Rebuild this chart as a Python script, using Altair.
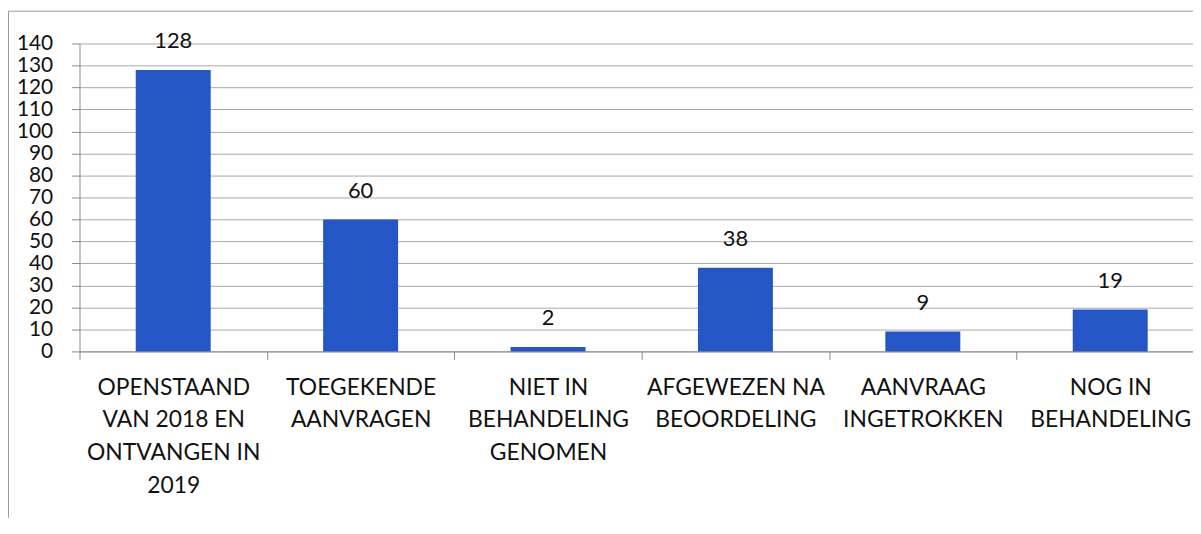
import altair as alt
import pandas as pd

categories = [
    "OPENSTAAND VAN 2018 EN ONTVANGEN IN 2019",
    "TOEGEKENDE AANVRAGEN",
    "NIET IN BEHANDELING GENOMEN",
    "AFGEWEZEN NA BEOORDELING",
    "AANVRAAG INGETROKKEN",
    "NOG IN BEHANDELING",
]
label_lines = [
    ["OPENSTAAND", "VAN 2018 EN", "ONTVANGEN IN", "2019"],
    ["TOEGEKENDE", "AANVRAGEN"],
    ["NIET IN", "BEHANDELING", "GENOMEN"],
    ["AFGEWEZEN NA", "BEOORDELING"],
    ["AANVRAAG", "INGETROKKEN"],
    ["NOG IN", "BEHANDELING"],
]
values = [128, 60, 2, 38, 9, 19]
y_ticks = list(range(0, 141, 10))

df = pd.DataFrame({"cat": categories, "value": values})

label_expr = "{" + ", ".join(
    f"'{c}': {label_lines[i]!r}" for i, c in enumerate(categories)
) + "}[datum.value]"

FONT = "Lato"
W, H = 1132, 310

x = alt.X(
    "cat:N",
    sort=categories,
    scale=alt.Scale(paddingInner=0, paddingOuter=0),
    axis=alt.Axis(
        title=None,
        labelAngle=0,
        labelExpr=label_expr,
        labelFont=FONT,
        labelFontSize=23,
        labelColor="#111111",
        labelLineHeight=33,
        labelPadding=17,
        labelLimit=400,
        labelOverlap=False,
        tickBand="extent",
        tickSize=8,
        tickColor="#8a8a8a",
        domainColor="#8a8a8a",
        grid=False,
    ),
)
y = alt.Y(
    "value:Q",
    scale=alt.Scale(domain=[0, 140], nice=False),
    axis=alt.Axis(
        title=None,
        values=y_ticks,
        labelFont=FONT,
        labelFontSize=21,
        labelColor="#111111",
        labelPadding=19,
        labelOverlap=False,
        labelFlush=False,
        tickSize=8,
        tickColor="#8a8a8a",
        domainColor="#8a8a8a",
        gridColor="#a8a8a8",
        gridOpacity=1,
    ),
)

base = alt.Chart(df).encode(x=x, y=y)

bars = base.mark_bar(color="#2457c5", width=alt.RelativeBandSize(0.4))

texts = base.mark_text(
    font=FONT, fontSize=22, color="#111111", baseline="alphabetic", dy=-22
).encode(text="value:Q")

frame_df = pd.DataFrame({"k": [0]})
frame_left = alt.Chart(frame_df).mark_rule(color="#9a9a9a", strokeWidth=1).encode(
    x=alt.value(-71.5), y=alt.value(-32.5), y2=alt.value(H + 200)
)
frame_top = alt.Chart(frame_df).mark_rule(color="#9a9a9a", strokeWidth=1).encode(
    x=alt.value(-71.5), x2=alt.value(W + 100), y=alt.value(-32.5)
)

chart = alt.layer(bars, texts, frame_left, frame_top).properties(
    width=W,
    height=H,
    autosize=alt.AutoSizeParams(type="none"),
    padding={"left": 72, "top": 34, "right": -11, "bottom": 166},
).configure(background="white", view=alt.ViewConfig(stroke=None))

chart.save("out.html", embed_options={"renderer": "svg", "actions": False})
